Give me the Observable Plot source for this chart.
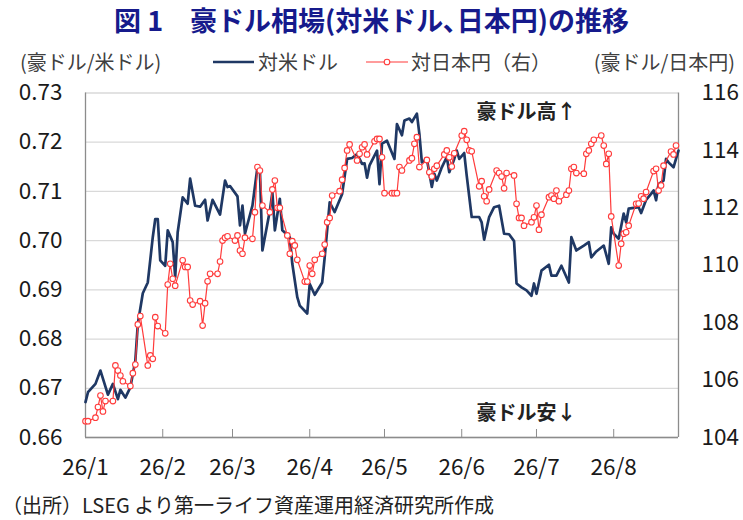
<!DOCTYPE html>
<html><head><meta charset="utf-8">
<script src="https://cdn.jsdelivr.net/npm/d3@7"></script>
<script src="https://cdn.jsdelivr.net/npm/@observablehq/plot@0.6"></script>
<style>
body{margin:0;background:#fff;font-family:"Noto Sans CJK JP",sans-serif;}
#wrap{position:relative;width:743px;height:520px;overflow:hidden;background:#fff;}
#title{position:absolute;left:0;top:1px;width:743px;text-align:center;font-size:27px;font-weight:bold;color:#161a8c;line-height:38px;white-space:nowrap;z-index:2;}
.lg{position:absolute;top:50.5px;font-size:20px;color:#404040;line-height:21px;white-space:nowrap;z-index:2;}
.sw{position:absolute;top:50.5px;z-index:2;}
#chart{position:absolute;left:0;top:70px;z-index:1;}
#caption{position:absolute;left:2px;top:492px;font-size:20px;color:#222;line-height:26px;white-space:nowrap;z-index:2;}
</style></head>
<body><div id="wrap">
<div id="title">図 1　豪ドル相場(対米ドル､日本円)の推移</div>
<div class="lg" style="left:20px">(豪ドル/米ドル)</div>
<svg class="sw" style="left:212px" width="44" height="21"><line x1="1" x2="42" y1="11" y2="11" stroke="#1f3864" stroke-width="2.6"/></svg>
<div class="lg" style="left:258px">対米ドル</div>
<svg class="sw" style="left:365px" width="44" height="21"><line x1="1" x2="43" y1="11" y2="11" stroke="#ff3b3b" stroke-width="1.2"/><circle cx="22" cy="11" r="2.8" fill="#fff" stroke="#ff3b3b" stroke-width="1.1"/></svg>
<div class="lg" style="left:411px">対日本円（右）</div>
<div class="lg" style="right:8px">(豪ドル/日本円)</div>
<div id="chart"></div>
<div id="caption">（出所）LSEG より第一ライフ資産運用経済研究所作成</div>
</div>
<script>
const YEAR = 2026;
const xDomain = ["01-01", "08-27"];
const leftTicks = [0.66, 0.67, 0.68, 0.69, 0.70, 0.71, 0.72, 0.73];
const rightTicks = [104, 106, 108, 110, 112, 114, 116];
const monthTicks = ["01-01","02-01","03-01","04-01","05-01","06-01","07-01","08-01"];
const monthLabels = ["26/1","26/2","26/3","26/4","26/5","26/6","26/7","26/8"];

// 対米ドル (left axis)
const usdSeries = [
["01-01",0.6672],["01-02",0.6692],["01-05",0.6709],["01-07",0.6736],["01-10",0.6687],["01-12",0.6709],["01-14",0.6678],["01-15",0.6697],["01-17",0.6681],["01-19",0.6702],["01-21",0.6756],["01-22",0.6831],["01-24",0.6893],["01-26",0.6915],["01-28",0.7007],["01-29",0.7044],["01-30",0.7044],["01-31",0.6960],
["02-02",0.6949],["02-03",0.7021],["02-05",0.6997],["02-06",0.6926],["02-07",0.7017],["02-09",0.7088],["02-11",0.7075],["02-12",0.7126],["02-14",0.7071],["02-16",0.7069],["02-18",0.7083],["02-19",0.7041],["02-21",0.7083],["02-24",0.7053],["02-26",0.7122],["02-27",0.7109],["02-28",0.7111],
["03-03",0.7090],["03-04",0.7031],["03-05",0.7071],["03-06",0.7014],["03-09",0.7071],["03-11",0.7149],["03-12",0.7143],["03-13",0.6980],["03-16",0.7061],["03-17",0.7098],["03-18",0.7021],["03-20",0.7085],["03-21",0.7021],["03-24",0.7007],["03-25",0.6953],["03-27",0.6885],["03-28",0.6868],["03-31",0.6852],
["04-01",0.6912],["04-03",0.6890],["04-06",0.6915],["04-07",0.6966],["04-09",0.7078],["04-11",0.7058],["04-14",0.7095],["04-16",0.7166],["04-18",0.7168],["04-20",0.7176],["04-22",0.7156],["04-23",0.7157],["04-24",0.7128],["04-25",0.7153],["04-28",0.7183],["04-29",0.7115],["04-30",0.7197],
["05-02",0.7203],["05-05",0.7166],["05-06",0.7237],["05-08",0.7214],["05-09",0.7244],["05-11",0.7248],["05-12",0.7241],["05-14",0.7258],["05-15",0.7217],["05-16",0.7159],["05-18",0.7166],["05-20",0.7109],["05-21",0.7136],["05-22",0.7122],["05-24",0.7149],["05-26",0.7170],["05-27",0.7139],["05-29",0.7166],["05-30",0.7183],["05-31",0.7166],
["06-02",0.7178],["06-03",0.7132],["06-05",0.7048],["06-08",0.7048],["06-09",0.7037],["06-10",0.7002],["06-12",0.7048],["06-14",0.7068],["06-16",0.7071],["06-18",0.7014],["06-20",0.7013],["06-22",0.6999],["06-23",0.6913],["06-25",0.6905],["06-27",0.6899],["06-29",0.6888],["06-30",0.6913],
["07-01",0.6892],["07-03",0.6939],["07-06",0.6951],["07-07",0.6929],["07-09",0.6929],["07-11",0.6949],["07-14",0.6915],["07-15",0.7007],["07-17",0.6980],["07-20",0.6990],["07-22",0.6997],["07-23",0.6966],["07-25",0.6978],["07-28",0.6990],["07-30",0.6953],["07-31",0.7027],
["08-01",0.7014],["08-03",0.7004],["08-05",0.7055],["08-06",0.7037],["08-07",0.7065],["08-11",0.7068],["08-12",0.7056],["08-14",0.7083],["08-16",0.7095],["08-17",0.7102],["08-18",0.7082],["08-19",0.7115],["08-21",0.7122],["08-22",0.7166],["08-23",0.7159],["08-25",0.7149],["08-26",0.7166],["08-27",0.7183]
];

// 対日本円 (right axis)
const jpySeries = [
["01-01",104.57],["01-02",104.57],["01-05",104.69],["01-06",105.06],["01-07",105.46],["01-08",104.91],["01-09",105.27],["01-12",105.27],["01-13",106.51],["01-14",106.33],["01-15",106.16],["01-16",105.96],["01-19",105.79],["01-20",106.24],["01-21",106.54],["01-22",107.94],["01-23",108.23],["01-26",106.51],["01-27",106.86],["01-28",106.74],["01-29",108.19],["01-30",107.88],
["02-02",107.63],["02-03",109.33],["02-04",110.05],["02-05",109.53],["02-06",109.29],["02-09",110.17],["02-10",109.94],["02-11",109.94],["02-12",108.77],["02-13",108.63],["02-16",108.75],["02-17",107.90],["02-18",108.68],["02-19",109.44],["02-20",109.70],["02-23",109.70],["02-24",110.13],["02-25",110.86],["02-26",110.96],["02-27",111.01],
["03-02",110.86],["03-03",111.04],["03-04",110.51],["03-05",110.40],["03-06",110.96],["03-09",110.92],["03-10",111.85],["03-11",113.42],["03-12",113.30],["03-13",112.08],["03-16",111.85],["03-17",112.64],["03-18",112.95],["03-19",112.00],["03-20",112.00],["03-23",111.04],["03-24",110.40],["03-25",110.84],["03-26",110.69],["03-27",110.19],["03-30",109.43],["03-31",109.43],
["04-01",109.99],["04-02",109.70],["04-03",110.19],["04-06",110.40],["04-07",110.72],["04-08",111.50],["04-09",111.65],["04-10",112.43],["04-13",112.58],["04-14",112.98],["04-15",113.39],["04-16",114.00],["04-17",114.21],["04-20",113.65],["04-21",113.88],["04-22",114.11],["04-23",114.21],["04-24",113.86],["04-27",114.32],["04-28",114.40],["04-29",114.40],["04-30",113.76],
["05-01",112.51],["05-04",112.51],["05-05",112.51],["05-06",112.51],["05-07",113.42],["05-08",113.30],["05-11",113.65],["05-12",113.73],["05-13",114.23],["05-14",114.46],["05-15",113.42],["05-18",113.67],["05-19",113.24],["05-20",113.09],["05-21",113.36],["05-22",113.47],["05-25",113.86],["05-26",114.00],["05-27",113.76],["05-28",113.44],["05-29",113.90],
["06-01",114.52],["06-02",114.67],["06-03",114.37],["06-04",114.00],["06-05",113.97],["06-08",112.75],["06-09",112.93],["06-10",112.40],["06-11",112.23],["06-12",112.64],["06-15",113.30],["06-16",113.21],["06-17",113.09],["06-18",112.68],["06-19",113.21],["06-22",113.13],["06-23",112.14],["06-24",111.65],["06-25",111.65],["06-26",111.38],["06-29",111.50],["06-30",111.67],
["07-01",112.08],["07-02",111.24],["07-03",111.76],["07-06",112.37],["07-07",112.43],["07-08",112.32],["07-09",112.60],["07-10",112.23],["07-13",112.46],["07-14",112.60],["07-15",113.36],["07-16",113.42],["07-17",113.21],["07-20",113.19],["07-21",113.88],["07-22",114.00],["07-23",114.23],["07-24",114.37],["07-27",114.52],["07-28",114.17],["07-29",113.53],["07-30",113.88],["07-31",111.70],
["08-03",109.99],["08-04",110.75],["08-05",111.10],["08-06",111.15],["08-07",111.38],["08-10",112.14],["08-11",112.15],["08-12",112.40],["08-13",112.32],["08-14",112.55],["08-17",113.28],["08-18",113.36],["08-19",112.60],["08-20",112.78],["08-21",113.47],["08-24",113.96],["08-25",113.86],["08-26",114.17]
];

const notes = [["06-27", 0.7260, "豪ドル高↑"], ["06-27", 0.6649, "豪ドル安↓"]];

const day = md => new Date(`${YEAR}-${md}T00:00:00Z`);
const usd = usdSeries.map(([d, v]) => ({date: day(d), v}));
const jpy = jpySeries.map(([d, v]) => ({date: day(d), v}));
const xd = xDomain.map(day);
const ticksX = monthTicks.map(day);
const yDom = [leftTicks[0], leftTicks[leftTicks.length - 1]];
const toLeft = d3.scaleLinear([rightTicks[0], rightTicks[rightTicks.length - 1]], yDom);
const rightPos = rightTicks.map(toLeft);

const chart = Plot.plot({
  width: 743, height: 420,
  marginLeft: 85, marginRight: 65, marginTop: 22.5, marginBottom: 53,
  style: {fontFamily: "'Noto Sans CJK JP', sans-serif", fontSize: "22.5px", color: "#1a1a1a", background: "transparent", overflow: "visible"},
  x: {type: "utc", domain: xd, axis: null},
  y: {domain: yDom, axis: null},
  marks: [
    Plot.gridY(leftTicks, {stroke: "#d9d9d9", strokeOpacity: 1, strokeWidth: 1.3}),
    Plot.ruleX(xd, {stroke: "#8c8c8c", strokeWidth: 1.3}),
    Plot.ruleY([yDom[0]], {stroke: "#8c8c8c", strokeWidth: 1.3}),
    Plot.axisX(ticksX, {tickSize: -8, tickPadding: 30, stroke: "#8c8c8c", tickFormat: (d, i) => monthLabels[i], label: null}),
    Plot.axisY(leftTicks, {anchor: "left", tickSize: 0, tickPadding: 23, tickFormat: d3.format(".2f"), label: null}),
    Plot.axisY(rightPos, {anchor: "right", tickSize: 0, tickPadding: 23, tickFormat: (d, i) => rightTicks[i], label: null}),
    Plot.line(usd, {x: "date", y: "v", stroke: "#1f3864", strokeWidth: 2.7}),
    Plot.line(jpy, {x: "date", y: d => toLeft(d.v), stroke: "#ff3b3b", strokeWidth: 1.2}),
    Plot.dot(jpy, {x: "date", y: d => toLeft(d.v), r: 2.8, fill: "#fff", stroke: "#ff3b3b", strokeWidth: 1.1}),
    Plot.text(notes, {x: d => day(d[0]), y: d => d[1], text: d => d[2], fontWeight: "bold", fontSize: 20, fill: "#222"})
  ]
});
document.getElementById("chart").appendChild(chart);
</script>
</body></html>
